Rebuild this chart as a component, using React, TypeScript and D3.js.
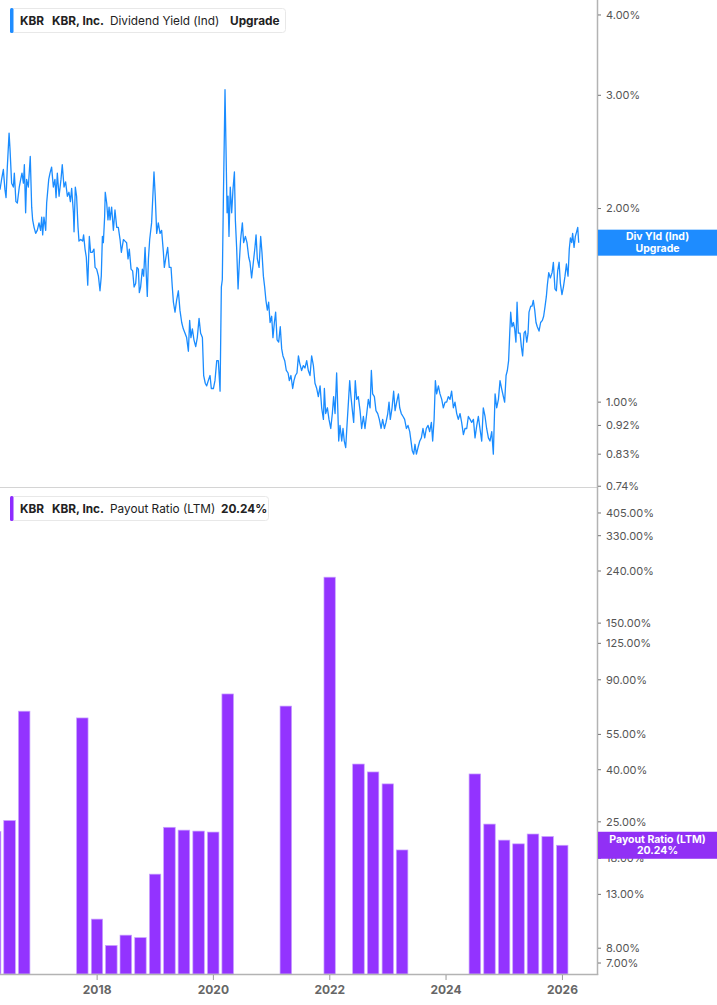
import React from 'react';
import * as d3 from 'd3';

// ---------- DATA ----------
const yieldStart = new Date(2016, 4, 1);
const yieldEndDays = 3749; // axis right edge, days after start

// [days after yieldStart, dividend yield %]
const yieldSeries: [number, number][] = [
[0,2.14],[10,2.22],[21,2.30],[31,2.14],[38,2.08],[46,2.32],[57,2.62],[63,2.47],[73,2.19],[84,2.16],[90,2.27],[100,2.05],[109,2.04],[121,2.16],[130,2.22],[138,2.27],[147,2.19],[153,2.34],[161,1.97],[167,2.22],[178,2.16],[190,2.41],[199,2.01],[205,1.92],[214,1.87],[224,1.83],[234,1.85],[245,1.90],[255,1.85],[262,1.94],[268,1.82],[276,1.94],[287,1.85],[293,2.04],[306,2.22],[314,2.27],[324,2.32],[335,2.16],[345,2.22],[352,2.08],[360,2.27],[371,2.09],[383,2.22],[391,2.34],[402,2.16],[412,2.20],[423,2.09],[433,2.12],[442,2.05],[450,2.15],[461,1.97],[465,1.84],[473,2.16],[481,2.09],[490,1.87],[496,1.78],[507,1.79],[519,1.78],[525,1.82],[534,1.73],[542,1.68],[551,1.52],[561,1.81],[569,1.71],[580,1.71],[590,1.73],[597,1.62],[607,1.61],[618,1.57],[628,1.49],[636,1.57],[643,1.81],[649,1.77],[657,1.94],[661,2.12],[670,2.04],[678,1.92],[685,2.01],[691,1.92],[701,2.01],[712,1.85],[722,1.99],[733,1.87],[743,1.87],[754,1.79],[762,1.71],[775,1.79],[785,1.78],[795,1.77],[804,1.67],[812,1.73],[823,1.61],[833,1.60],[842,1.51],[852,1.53],[860,1.62],[869,1.61],[875,1.48],[883,1.51],[894,1.61],[902,1.57],[911,1.74],[917,1.61],[925,1.46],[932,1.67],[940,1.79],
[952,1.90],[967,2.28],[975,2.09],[984,1.83],[994,1.90],[1005,1.83],[1015,1.85],[1026,1.71],[1032,1.62],[1042,1.68],[1053,1.74],[1063,1.62],[1074,1.62],[1082,1.51],[1089,1.43],[1099,1.38],[1109,1.44],[1120,1.49],[1130,1.39],[1141,1.33],[1151,1.30],[1162,1.28],[1172,1.26],[1183,1.20],[1191,1.34],[1199,1.26],[1208,1.30],[1218,1.25],[1229,1.22],[1239,1.26],[1250,1.35],[1260,1.28],[1271,1.26],[1279,1.10],[1289,1.07],[1298,1.06],[1308,1.08],[1319,1.10],[1327,1.05],[1340,1.05],[1350,1.08],[1361,1.16],[1371,1.16],[1382,1.04],[1390,1.51],[1396,1.55],[1403,2.09],[1409,2.62],[1413,3.06],[1419,2.50],[1426,1.97],[1432,2.09],[1438,1.81],[1446,2.16],[1455,1.97],[1463,2.14],[1472,2.28],[1478,1.92],[1486,1.74],[1495,1.50],[1503,1.65],[1511,1.79],[1522,1.90],[1530,1.77],[1541,1.81],[1551,1.77],[1562,1.68],[1570,1.65],[1580,1.56],[1591,1.65],[1601,1.74],[1608,1.82],[1616,1.67],[1627,1.62],[1637,1.81],[1645,1.71],[1654,1.57],[1662,1.51],[1670,1.44],[1679,1.39],[1687,1.43],[1696,1.33],[1706,1.36],[1714,1.26],[1723,1.33],[1731,1.38],[1740,1.25],[1750,1.24],[1760,1.31],[1769,1.21],[1777,1.18],[1788,1.16],[1798,1.12],[1809,1.11],[1817,1.08],[1827,1.10],[1838,1.05],[1846,1.08],[1855,1.10],[1865,1.11],[1874,1.18],[1882,1.15],
[1894,1.12],[1905,1.14],[1915,1.13],[1926,1.16],[1936,1.12],[1947,1.10],[1957,1.18],[1968,1.14],[1978,1.07],[1989,1.05],[1999,1.02],[2010,1.06],[2020,0.98],[2031,0.94],[2037,1.05],[2045,0.96],[2056,0.98],[2066,0.94],[2077,0.91],[2087,0.96],[2095,1.02],[2104,0.96],[2114,1.11],[2121,0.98],[2127,0.87],[2135,0.92],[2146,0.87],[2154,0.91],[2162,0.87],[2171,0.85],[2179,0.92],[2188,1.00],[2196,1.08],[2204,1.02],[2213,0.97],[2221,0.93],[2231,1.08],[2240,1.01],[2250,1.02],[2261,0.97],[2271,0.91],[2282,0.95],[2292,0.91],[2303,0.96],[2313,1.01],[2324,0.98],[2332,1.12],[2340,1.03],[2351,1.02],[2361,0.97],[2372,0.96],[2382,0.94],[2393,0.91],[2403,0.94],[2414,0.91],[2424,0.93],[2435,0.96],[2443,1.00],[2451,0.94],[2462,0.98],[2472,1.04],[2481,0.97],[2491,1.00],[2502,1.03],[2510,0.98],[2520,0.96],[2531,0.95],[2541,0.94],[2552,0.91],[2562,0.92],[2573,0.90],[2581,0.87],[2589,0.84],[2598,0.83],[2606,0.86],[2615,0.83],[2625,0.85],[2636,0.87],[2646,0.88],[2656,0.91],[2667,0.88],[2677,0.91],[2688,0.92],[2698,0.90],[2709,0.93],[2717,0.87],[2726,0.94],[2734,1.08],[2742,1.03],[2753,1.06],[2763,1.03],
[2774,1.01],[2784,0.98],[2795,1.00],[2805,1.00],[2815,1.02],[2826,1.01],[2836,1.04],[2847,0.98],[2857,1.00],[2868,0.96],[2878,0.94],[2889,0.96],[2899,0.93],[2910,0.89],[2920,0.91],[2931,0.91],[2941,0.95],[2952,0.94],[2962,0.93],[2973,0.94],[2983,0.88],[2994,0.92],[3004,0.95],[3014,0.91],[3025,0.87],[3035,0.98],[3046,0.95],[3056,0.91],[3067,0.88],[3077,0.87],[3088,0.90],[3098,0.83],[3109,1.03],[3119,0.98],[3130,1.01],[3140,1.08],[3150,1.05],[3161,1.02],[3169,1.00],[3178,1.10],[3186,1.12],[3194,1.16],[3201,1.28],[3207,1.38],[3215,1.31],[3224,1.33],[3232,1.30],[3240,1.24],[3247,1.43],[3255,1.28],[3266,1.28],[3274,1.22],[3282,1.18],[3291,1.28],[3299,1.29],[3308,1.24],[3316,1.28],[3322,1.38],[3333,1.41],[3341,1.41],[3349,1.44],[3358,1.39],[3366,1.33],[3374,1.31],[3385,1.29],[3395,1.33],[3406,1.34],[3414,1.36],[3423,1.41],[3431,1.46],[3437,1.52],[3446,1.59],[3456,1.56],[3467,1.59],[3475,1.65],[3485,1.50],[3494,1.49],[3502,1.60],[3511,1.65],[3519,1.53],[3529,1.47],[3538,1.51],[3548,1.57],[3557,1.64],[3567,1.57],[3575,1.73],[3582,1.80],[3590,1.77],[3596,1.83],[3605,1.74],[3613,1.81],[3621,1.84],[3628,1.87],[3634,1.77]
];

const payoutDates = [
  "2016-03-31","2016-06-30","2016-09-30","2017-09-30","2017-12-31","2018-03-31","2018-06-30","2018-09-30","2018-12-31",
  "2019-03-31","2019-06-30","2019-09-30","2019-12-31","2020-03-31","2021-03-31","2021-12-31",
  "2022-06-30","2022-09-30","2022-12-31","2023-03-31",
  "2024-06-30","2024-09-30","2024-12-31","2025-03-31","2025-06-30","2025-09-30","2025-12-31"
];
const payoutValues = [
  22.9, 25.3, 67.8, 63.8, 10.4, 8.2, 9.0, 8.8, 15.6,
  23.8, 23.2, 23.0, 22.8, 79.2, 71.0, 227.0,
  42.1, 39.2, 35.2, 19.4,
  38.5, 24.5, 21.2, 20.5, 22.4, 21.9, 20.24
];

const yieldTicks = [4, 3, 2, 1, 0.92, 0.83, 0.74];
const payoutTicks = [405, 330, 240, 150, 125, 90, 55, 40, 25, 18, 13, 8, 7];
const yearTicks = [2018, 2020, 2022, 2024, 2026];

const lastYieldLabel = ["Div Yld (Ind)", "Upgrade"];
const lastPayoutLabel = ["Payout Ratio (LTM)", "20.24%"];

// ---------- CHART ----------
const FONT = "Inter, 'Noto Sans', Roboto, sans-serif";
const BLUE = "#1A8CFF";
const PURPLE = "#9333FF";

export default function App() {
  const W = 717, H = 1005;
  const axisX = 597.5;

  const x = d3.scaleTime()
    .domain([yieldStart, d3.timeDay.offset(yieldStart, yieldEndDays)])
    .range([0, 597]);
  const yTop = d3.scaleLog().domain([0.738, 4.22]).range([487, 0]);
  const yBot = d3.scaleLog().domain([6.34, 507.3]).range([974, 488]);

  const line = d3.line<[number, number]>()
    .x(d => x(d3.timeDay.offset(yieldStart, d[0])))
    .y(d => yTop(d[1]));

  const parse = d3.timeParse("%Y-%m-%d");
  const bars = payoutDates.map((s, i) => {
    const d = parse(s) as Date;
    const w = (x(d3.timeMonth.offset(d, 3)) - x(d)) * 0.79;
    const cx = x(d);
    const v = payoutValues[i];
    return { x: cx - w / 2, w, y: yBot(v), h: yBot.range()[0] - yBot(v) };
  });

  const fmt2 = (v: number) => v.toFixed(2) + "%";
  const yLast = yTop(yieldSeries[yieldSeries.length - 1][1]);
  const pLast = yBot(payoutValues[payoutValues.length - 1]);

  return (
    <div style={{ position: 'absolute', left: 0, top: 0, width: W, height: H, background: '#fff' }}>
      <svg width={W} height={H} style={{ display: 'block', fontFamily: FONT }}>
        <defs>
          <clipPath id="plotTop"><rect x={0} y={0} width={597} height={487} /></clipPath>
          <clipPath id="plotBot"><rect x={0} y={488} width={597} height={486} /></clipPath>
        </defs>
        <rect x={0} y={0} width={W} height={H} fill="#fff" />

        {/* separator between panes */}
        <line x1={0} x2={axisX} y1={487.5} y2={487.5} stroke="#d4d4d4" strokeWidth={1} />

        {/* dividend yield line */}
        <g clipPath="url(#plotTop)">
          <path d={line(yieldSeries) || ''} fill="none" stroke={BLUE} strokeWidth={1.3} strokeLinejoin="round" />
        </g>

        {/* payout bars */}
        <g clipPath="url(#plotBot)">
          {bars.map((b, i) => (
            <rect key={i} x={b.x} y={b.y} width={b.w} height={b.h} fill={PURPLE} stroke="#c9a2ff" strokeWidth={0.7} />
          ))}
        </g>

        {/* right axis line */}
        <line x1={axisX} x2={axisX} y1={0} y2={975} stroke="#b3b3b3" strokeWidth={1.5} />
        {/* bottom axis line */}
        <line x1={0} x2={axisX + 0.75} y1={974.5} y2={974.5} stroke="#b3b3b3" strokeWidth={1.5} />

        {/* top axis ticks */}
        {yieldTicks.map(t => (
          <g key={'yt' + t} transform={`translate(0,${yTop(t)})`}>
            <line x1={598} x2={601} stroke="#777" strokeWidth={1} />
            <text x={606} dy="0.35em" fontSize={11} fill="#555">{fmt2(t)}</text>
          </g>
        ))}
        {/* bottom axis ticks */}
        {payoutTicks.map(t => (
          <g key={'pt' + t} transform={`translate(0,${yBot(t)})`}>
            <line x1={598} x2={601} stroke="#777" strokeWidth={1} />
            <text x={606} dy="0.35em" fontSize={11} fill="#555">{fmt2(t)}</text>
          </g>
        ))}

        {/* x axis */}
        {yearTicks.map(yr => {
          const xx = x(new Date(yr, 0, 1));
          return (
            <g key={'x' + yr}>
              <line x1={xx} x2={xx} y1={975} y2={980} stroke="#999" strokeWidth={1} />
              <text x={xx} y={994} textAnchor="middle" fontSize={12} fontWeight={700} fill="#666">{yr}</text>
            </g>
          );
        })}

        {/* last value labels */}
        <g>
          <rect x={598} y={yLast - 13} width={119} height={26} fill="#1E8CFF" />
          <text x={657.5} y={yLast - 2.5} textAnchor="middle" fontSize={10.5} fontWeight={700} fill="#fff">{lastYieldLabel[0]}</text>
          <text x={657.5} y={yLast + 9} textAnchor="middle" fontSize={10.5} fontWeight={700} fill="#fff">{lastYieldLabel[1]}</text>
        </g>
        <g>
          <rect x={598} y={pLast - 13.5} width={119} height={27} fill="#9130F5" />
          <text x={657.5} y={pLast - 2.5} textAnchor="middle" fontSize={10.5} fontWeight={700} fill="#fff">{lastPayoutLabel[0]}</text>
          <text x={657.5} y={pLast + 9} textAnchor="middle" fontSize={10.5} fontWeight={700} fill="#fff">{lastPayoutLabel[1]}</text>
        </g>

        {/* legends */}
        <g>
          <rect x={10.5} y={8.5} width={275} height={24} rx={3} fill="#fff" stroke="#e8e8e8" />
          <rect x={10} y={8} width={3.5} height={25} rx={1.5} fill="#1E8CFF" />
          <text y={25} fontSize={11.8} fill="#222">
            <tspan x={20} fontWeight={700}>KBR</tspan>
            <tspan x={52} fontWeight={700}>KBR, Inc.</tspan>
            <tspan x={110} fontWeight={400}>Dividend Yield (Ind)</tspan>
            <tspan x={230} fontWeight={700}>Upgrade</tspan>
          </text>
        </g>
        <g>
          <rect x={10.5} y={496.5} width={258} height={24} rx={3} fill="#fff" stroke="#e8e8e8" />
          <rect x={10} y={496} width={3.5} height={25} rx={1.5} fill="#8E2BFF" />
          <text y={513} fontSize={11.8} fill="#222">
            <tspan x={20} fontWeight={700}>KBR</tspan>
            <tspan x={52} fontWeight={700}>KBR, Inc.</tspan>
            <tspan x={110} fontWeight={400}>Payout Ratio (LTM)</tspan>
            <tspan x={221} fontWeight={700}>20.24%</tspan>
          </text>
        </g>
      </svg>
    </div>
  );
}
